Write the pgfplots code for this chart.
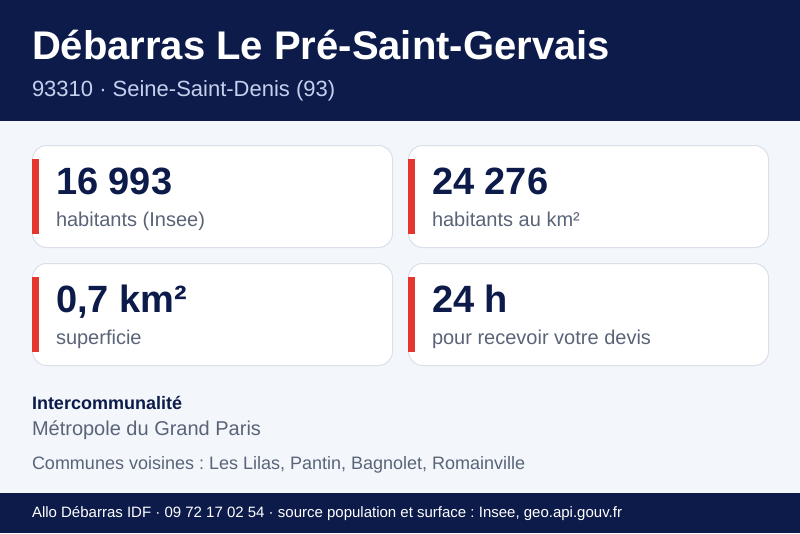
\documentclass[border=0pt]{standalone}
\usepackage{pgfplots}
\pgfplotsset{compat=1.18}
\usepackage{fontspec}
\setmainfont{Liberation Sans}
\frenchspacing
\definecolor{navy}{HTML}{0D1B4A}
\definecolor{pagebg}{HTML}{F3F6FB}
\definecolor{cardline}{HTML}{DADFEA}
\definecolor{redbar}{HTML}{E5352F}
\definecolor{greytxt}{HTML}{5A6478}
\definecolor{subtxt}{HTML}{C5CFEE}
\newcommand{\px}[1]{\fontsize{\dimexpr#1pt*3/4\relax}{\dimexpr#1pt*9/10\relax}\selectfont}
\newcommand{\card}[2]{%
  \filldraw[fill=white,draw=cardline,line width=0.75pt,rounded corners=10.5pt]
    (axis cs:#1,#2) rectangle (axis cs:#1+360,#2+102);}
\newcommand{\txt}[5]{\node[anchor=base west,inner sep=0pt,outer sep=0pt,text=#4] at (axis cs:#1,#2) {\px{#3}#5};}
\begin{document}
\begin{tikzpicture}
\begin{axis}[
  scale only axis,width=600pt,height=399.75pt,
  xmin=0,xmax=800,ymin=0,ymax=533,y dir=reverse,
  axis lines=none,clip=true,
]
\addplot[fill=pagebg,draw=none] coordinates {(0,0)(800,0)(800,533)(0,533)} --cycle;
\addplot[fill=navy,draw=none] coordinates {(0,0)(800,0)(800,121)(0,121)} --cycle;
\addplot[fill=navy,draw=none] coordinates {(0,493)(800,493)(800,533)(0,533)} --cycle;
\card{32.5}{145.5}
\card{408.5}{145.5}
\card{32.5}{263.5}
\card{408.5}{263.5}
\addplot[fill=redbar,draw=none] coordinates {(32,159)(39,159)(39,234)(32,234)} --cycle;
\addplot[fill=redbar,draw=none] coordinates {(408,159)(415,159)(415,234)(408,234)} --cycle;
\addplot[fill=redbar,draw=none] coordinates {(32,277)(39,277)(39,352)(32,352)} --cycle;
\addplot[fill=redbar,draw=none] coordinates {(408,277)(415,277)(415,352)(408,352)} --cycle;
\txt{32}{59}{40}{white}{\bfseries Débarras Le Pré-Saint-Gervais}
\txt{32}{96}{22}{subtxt}{93310 · Seine-Saint-Denis (93)}
\txt{56}{194}{38}{navy}{\bfseries 16 993}
\txt{56}{226}{20}{greytxt}{habitants (Insee)}
\txt{432}{194}{38}{navy}{\bfseries 24 276}
\txt{432}{226}{20}{greytxt}{habitants au km²}
\txt{56}{312}{38}{navy}{\bfseries 0,7 km²}
\txt{56}{344}{20}{greytxt}{superficie}
\txt{432}{312}{38}{navy}{\bfseries 24 h}
\txt{432}{344}{20}{greytxt}{pour recevoir votre devis}
\txt{32}{409}{18}{navy}{\bfseries Intercommunalité}
\txt{32}{435}{20}{greytxt}{Métropole du Grand Paris}
\txt{32}{469}{18}{greytxt}{Communes voisines : Les Lilas, Pantin, Bagnolet, Romainville}
\txt{32}{517}{15}{white}{Allo Débarras IDF · 09 72 17 02 54 · source population et surface : Insee, geo.api.gouv.fr}
\end{axis}
\end{tikzpicture}
\end{document}
